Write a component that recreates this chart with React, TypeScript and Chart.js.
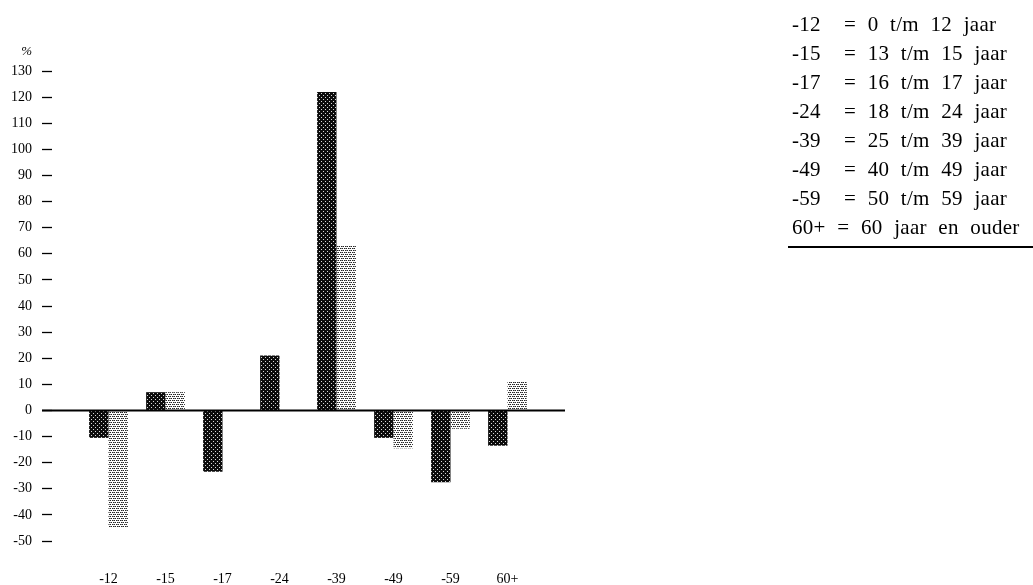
import React, { useEffect, useRef } from "react";
import { Chart, registerables } from "chart.js";

Chart.register(...registerables);

const categories = ["-12", "-15", "-17", "-24", "-39", "-49", "-59", "60+"];
const seriesDark = [-10.5, 7, -23.5, 21, 122, -10.5, -27.5, -13.5];
const seriesLight = [-45, 7, 0, 0, 63, -14.5, -7, 11];
const yMin = -50;
const yMax = 130;
const yStep = 10;
const legendLines = [
  "-12  = 0 t/m 12 jaar",
  "-15  = 13 t/m 15 jaar",
  "-17  = 16 t/m 17 jaar",
  "-24  = 18 t/m 24 jaar",
  "-39  = 25 t/m 39 jaar",
  "-49  = 40 t/m 49 jaar",
  "-59  = 50 t/m 59 jaar",
  "60+ = 60 jaar en ouder",
];

function makePattern(kind: "dark" | "light"): CanvasPattern | string {
  const c = document.createElement("canvas");
  c.width = 4;
  c.height = 4;
  const ctx = c.getContext("2d");
  if (!ctx) return kind === "dark" ? "#1a1a1a" : "#bbbbbb";
  if (kind === "dark") {
    ctx.fillStyle = "#0c0c0c";
    ctx.fillRect(0, 0, 4, 4);
    ctx.fillStyle = "#d8d8d8";
    ctx.fillRect(1, 1, 1, 1);
    ctx.fillRect(3, 3, 1, 1);
  } else {
    ctx.fillStyle = "#ffffff";
    ctx.fillRect(0, 0, 4, 4);
    ctx.fillStyle = "#222222";
    ctx.fillRect(0, 0, 1, 1);
    ctx.fillRect(2, 0, 1, 1);
    ctx.fillRect(1, 2, 1, 1);
    ctx.fillRect(3, 2, 1, 1);
    ctx.fillStyle = "#888888";
    ctx.fillRect(1, 0, 1, 1);
    ctx.fillRect(2, 2, 1, 1);
  }
  const p = ctx.createPattern(c, "repeat");
  return p || (kind === "dark" ? "#1a1a1a" : "#bbbbbb");
}

const TICK_LEN = 38;

const zeroLinePlugin = {
  id: "zeroLine",
  afterDatasetsDraw(chart: any) {
    const { ctx, chartArea, scales } = chart;
    const y = scales.y.getPixelForValue(0);
    ctx.save();
    ctx.strokeStyle = "#000";
    ctx.lineWidth = 2;
    ctx.beginPath();
    ctx.moveTo(scales.y.right - TICK_LEN, y);
    ctx.lineTo(chartArea.right + 29, y);
    ctx.stroke();
    ctx.fillStyle = "#000";
    ctx.font = "italic 13px 'Liberation Serif', serif";
    ctx.textAlign = "right";
    ctx.textBaseline = "alphabetic";
    ctx.fillText("%", scales.y.right - TICK_LEN - 10, chartArea.top - 16);
    ctx.restore();
  },
};

export default function App() {
  const ref = useRef<HTMLCanvasElement | null>(null);
  useEffect(() => {
    if (!ref.current) return;
    const chart = new Chart(ref.current, {
      type: "bar",
      data: {
        labels: categories,
        datasets: [
          {
            data: seriesDark,
            backgroundColor: makePattern("dark") as any,
            borderWidth: 0,
            categoryPercentage: 0.68,
            barPercentage: 1,
          },
          {
            data: seriesLight,
            backgroundColor: makePattern("light") as any,
            borderWidth: 0,
            categoryPercentage: 0.68,
            barPercentage: 1,
          },
        ],
      },
      options: {
        responsive: false,
        animation: false,
        layout: { padding: { left: 0, right: 497, top: 71, bottom: 0 } },
        plugins: {
          legend: { display: false },
          tooltip: { enabled: false },
          title: { display: false },
        },
        scales: {
          x: {
            grid: { display: false },
            border: { display: false },
            ticks: {
              color: "#000",
              padding: 22,
              font: { family: "'Liberation Serif', serif", size: 14 },
            },
            afterFit(scale: any) {
              scale.height = 44;
            },
          },
          y: {
            min: yMin,
            max: yMax,
            border: { display: false },
            grid: {
              display: true,
              drawOnChartArea: false,
              drawTicks: true,
              tickLength: TICK_LEN,
              tickBorderDash: [10, 40],
              tickColor: "#000",
              tickWidth: 1.3,
            },
            ticks: {
              stepSize: yStep,
              color: "#000",
              padding: 10,
              font: { family: "'Liberation Serif', serif", size: 14 },
            },
            afterFit(scale: any) {
              scale.width = 80;
            },
          },
        },
      },
      plugins: [zeroLinePlugin],
    });
    return () => chart.destroy();
  }, []);

  return (
    <div style={{ position: "fixed", left: 0, top: 0, width: 1033, height: 585, background: "#fff" }}>
      <canvas ref={ref} width={1033} height={585} style={{ position: "absolute", left: 0, top: 0 }} />
      <div
        style={{
          position: "absolute",
          left: 788,
          top: 10,
          width: 245,
          fontFamily: "'Liberation Serif', serif",
          fontSize: 21,
          lineHeight: "29px",
          letterSpacing: "0.3px",
          wordSpacing: "6px",
          color: "#000",
          whiteSpace: "pre",
          borderBottom: "2px solid #000",
          paddingBottom: 4,
        }}
      >
        {legendLines.map((l, i) => (
          <div key={i} style={{ paddingLeft: 4 }}>{l}</div>
        ))}
      </div>
    </div>
  );
}
